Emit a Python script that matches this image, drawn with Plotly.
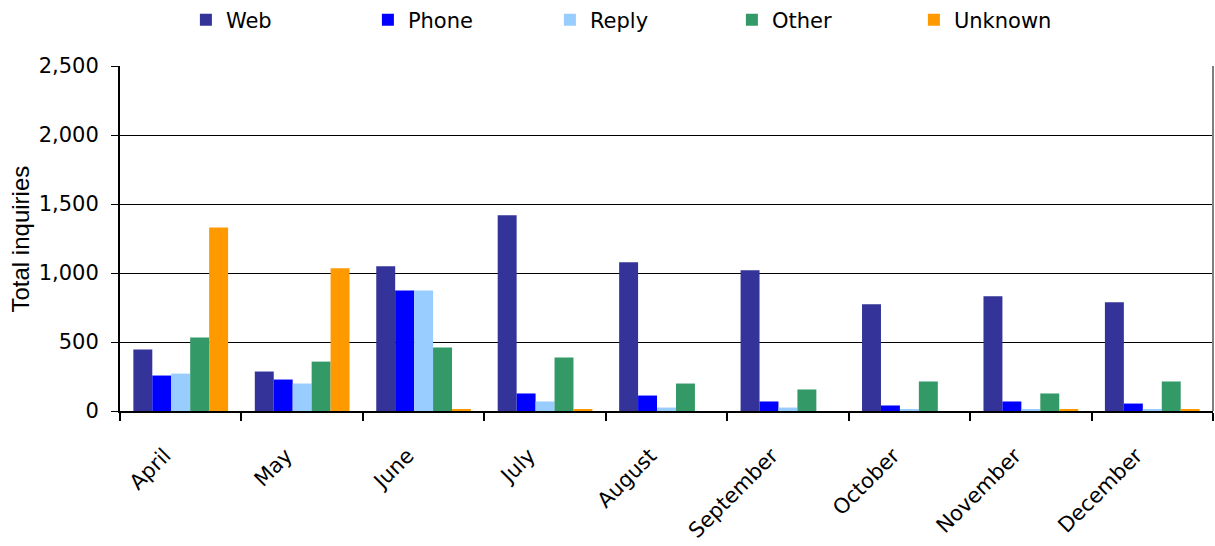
import plotly.graph_objects as go

months = ["April", "May", "June", "July", "August", "September", "October", "November", "December"]
web = [445, 286, 1049, 1418, 1077, 1020, 773, 831, 788]
phone = [257, 228, 873, 127, 112, 69, 40, 69, 54]
reply = [271, 199, 873, 69, 25, 25, 11, 11, 11]
other = [532, 358, 460, 387, 199, 156, 214, 127, 214]
unknown = [1329, 1035, 10, 10, 0, 0, 0, 10, 10]

series_names = ["Web", "Phone", "Reply", "Other", "Unknown"]
series_values = [web, phone, reply, other, unknown]
colors = ["#333399", "#0000FF", "#99CCFF", "#339966", "#FF9900"]
y_title = "Total inquiries"

FONT = "DejaVu Sans, Arial, sans-serif"
TFONT = "Liberation Sans, Arial, sans-serif"

fig = go.Figure()
for name, vals, col in zip(series_names, series_values, colors):
    fig.add_trace(go.Bar(x=months, y=vals, name=name, marker=dict(color=col, line=dict(width=0))))

fig.update_layout(
    width=1215, height=546,
    margin=dict(l=120, r=2, t=66, b=135, autoexpand=False),
    plot_bgcolor="white", paper_bgcolor="white",
    barmode="group", bargap=0.22, bargroupgap=0,
    font=dict(family=FONT, size=21, color="black"),
    legend=dict(orientation="h", xref="container", x=0.153, xanchor="left",
                yref="container", y=1 - 20 / 546, yanchor="middle",
                font=dict(size=21), entrywidth=137, entrywidthmode="pixels",
                itemsizing="constant", traceorder="normal"),
    xaxis=dict(showline=True, linecolor="black", linewidth=2, tickson="boundaries",
               ticks="outside", ticklen=8, tickcolor="black", tickwidth=2,
               tickangle=-45, tickfont=dict(size=21), showgrid=False,
               ticklabelstandoff=22, ticklabelshift=-16),
    yaxis=dict(range=[0, 2500], dtick=500, tickformat=",", showline=True, linecolor="black",
               linewidth=2, ticks="outside", ticklen=7, tickcolor="black", tickwidth=1,
               showgrid=True, gridcolor="black", gridwidth=1, zeroline=False,
               ticklabelstandoff=8, tickfont=dict(size=21)),
)
fig.add_annotation(text=y_title, textangle=-90, xref="paper", yref="paper",
                   x=(20 - 120) / 1093, y=0.5, xanchor="center", yanchor="middle",
                   showarrow=False, font=dict(size=24, family=TFONT, color="black"))
fig.add_shape(type="line", xref="paper", yref="paper", x0=1, x1=1, y0=0, y1=1,
              line=dict(color="#808080", width=2))
fig.write_html("out.html")
